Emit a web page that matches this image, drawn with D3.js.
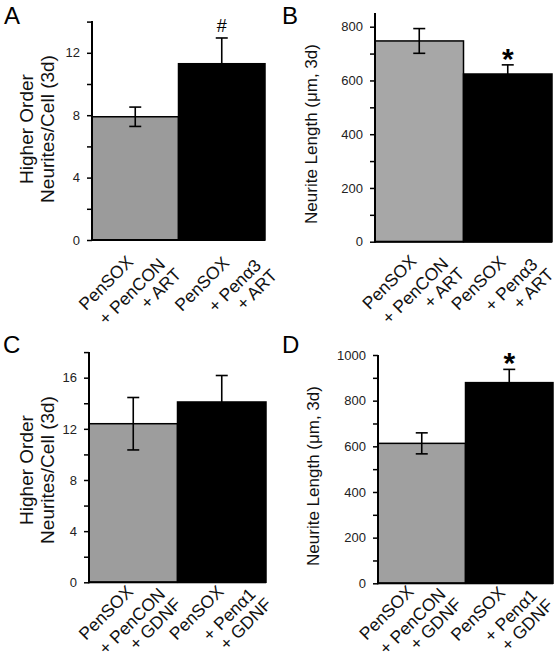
<!DOCTYPE html>
<html><head><meta charset="utf-8">
<script src="https://cdn.jsdelivr.net/npm/d3@7"></script>
<style>
body{margin:0;background:#fff;}
svg{display:block;font-family:"Liberation Sans",Arial,sans-serif;}
</style></head>
<body>
<svg id="chart" width="559" height="660"></svg>
<script>
// ---- data ----
const panelLetters = ["A", "B", "C", "D"];
const catsA = [["PenSOX", "+ PenCON", "+ ART"], ["PenSOX", "+ Penα3", "+ ART"]];
const catsB = [["PenSOX", "+ PenCON", "+ ART"], ["PenSOX", "+ Penα3", "+ ART"]];
const catsC = [["PenSOX", "+ PenCON", "+ GDNF"], ["PenSOX", "+ Penα1", "+ GDNF"]];
const catsD = [["PenSOX", "+ PenCON", "+ GDNF"], ["PenSOX", "+ Penα1", "+ GDNF"]];
const valuesA = [7.9, 11.3];
const errorsA = [0.62, 1.65];
const valuesB = [747, 624];
const errorsB = [46, 34];
const valuesC = [12.4, 14.1];
const errorsC = [2.05, 2.07];
const valuesD = [613, 879];
const errorsD = [46, 58];
const ticksA = [0, 2, 4, 6, 8, 10, 12, 14];
const labelsA = [0, 4, 8, 12];
const ticksB = [0, 100, 200, 300, 400, 500, 600, 700, 800];
const labelsB = [0, 200, 400, 600, 800];
const ticksC = [0, 2, 4, 6, 8, 10, 12, 14, 16, 18];
const labelsC = [0, 4, 8, 12, 16];
const ticksD = [0, 100, 200, 300, 400, 500, 600, 700, 800, 900, 1000];
const labelsD = [0, 200, 400, 600, 800, 1000];
const titleA = ["Higher Order", "Neurites/Cell (3d)"];
const titleB = ["Neurite Length (μm, 3d)"];
const titleC = ["Higher Order", "Neurites/Cell (3d)"];
const titleD = ["Neurite Length (μm, 3d)"];
const marksA = ["", "#"];
const marksB = ["", "*"];
const marksC = ["", ""];
const marksD = ["", "*"];

const svg = d3.select("#chart");

function panel(o) {
  const g = svg.append("g");
  const y = d3.scaleLinear().domain([0, o.max]).range([o.y0, o.yMax]);
  const x = d3.scaleBand().domain([0, 1]).range([o.ax, o.right]).padding(0);
  const fills = [o.gray, "#000"];

  // bars
  g.selectAll("rect.bar").data(o.values).enter().append("rect")
    .attr("x", (d, i) => x(i)).attr("width", x.bandwidth())
    .attr("y", d => y(d)).attr("height", d => y(0) - y(d))
    .attr("fill", (d, i) => fills[i]).attr("stroke", "#000").attr("stroke-width", 1.5);

  // error bars
  o.values.forEach((v, i) => {
    const cx = x(i) + x.bandwidth() / 2;
    const e = o.errors[i];
    const lo = i === 0 ? v - e : v;
    g.append("line").attr("x1", cx).attr("x2", cx).attr("y1", y(lo)).attr("y2", y(v + e))
      .attr("stroke", "#000").attr("stroke-width", 1.6);
    g.append("line").attr("x1", cx - 6).attr("x2", cx + 6).attr("y1", y(v + e)).attr("y2", y(v + e))
      .attr("stroke", "#000").attr("stroke-width", 1.6);
    if (i === 0) {
      g.append("line").attr("x1", cx - 6).attr("x2", cx + 6).attr("y1", y(v - e)).attr("y2", y(v - e))
        .attr("stroke", "#000").attr("stroke-width", 1.6);
    }
    const m = o.marks[i];
    if (m) {
      const isStar = m === "*";
      g.append("text").attr("x", cx).attr("y", y(v + e) + (isStar ? 4 : -6))
        .attr("text-anchor", "middle")
        .attr("font-size", isStar ? 30 : 18)
        .attr("font-weight", isStar ? "bold" : "normal")
        .text(m);
    }
  });

  // y axis
  const axis = d3.axisLeft(y).tickValues(o.ticks).tickSize(5).tickSizeOuter(0)
    .tickFormat(d => o.labels.includes(d) ? d : "");
  const ag = g.append("g").attr("transform", `translate(${o.ax},0)`).call(axis);
  ag.select(".domain").remove();
  ag.selectAll(".tick line").attr("stroke", "#000").attr("stroke-width", 1.5);
  ag.selectAll(".tick text").attr("font-size", 13).attr("fill", "#222").attr("x", -12)
    .attr("font-family", "Liberation Sans, Arial, sans-serif");
  g.append("line").attr("x1", o.ax).attr("x2", o.ax).attr("y1", y(0) + 1).attr("y2", o.axTop)
    .attr("stroke", "#000").attr("stroke-width", 2);
  // baseline
  g.append("line").attr("x1", o.ax).attr("x2", o.right).attr("y1", y(0)).attr("y2", y(0))
    .attr("stroke", "#000").attr("stroke-width", 2);

  // category labels (rotated, three lines each)
  const offs = [[0, 0], [32, 2.5], [48, 12.5]];
  o.cats.forEach((lines, i) => {
    const cx = x(i) + x.bandwidth() / 2;
    lines.forEach((t, j) => {
      const px = cx + o.lab[i][0] + offs[j][0], py = o.y0 + o.lab[i][1] + offs[j][1];
      g.append("text").attr("transform", `translate(${px},${py}) rotate(-45)`)
        .attr("text-anchor", "end").attr("font-size", 17.5).attr("fill", "#111").text(t);
    });
  });

  // y title
  const n = o.title.length;
  o.title.forEach((t, j) => {
    const bx = o.titleX - (n - 1 - j) * 21;
    g.append("text").attr("transform", `translate(${bx},${o.titleY}) rotate(-90)`)
      .attr("text-anchor", "middle").attr("font-size", o.titleSize).attr("fill", "#111").text(t);
  });

  // panel letter
  g.append("text").attr("x", o.lx).attr("y", o.ly).attr("font-size", 24).attr("fill", "#000").text(o.letter);
}

panel({letter: panelLetters[0], lx: 4, ly: 24, ax: 92, right: 265, y0: 240, yMax: 21.6, max: 14, axTop: 21,
  values: valuesA, errors: errorsA, ticks: ticksA, labels: labelsA, cats: catsA, title: titleA, marks: marksA,
  titleX: 54, titleY: 129, titleSize: 19, gray: "#9b9b9b", lab: [[-1, 23], [8.5, 24]]});
panel({letter: panelLetters[1], lx: 282, ly: 24, ax: 375, right: 552, y0: 241.7, yMax: 26.7, max: 800, axTop: 13,
  values: valuesB, errors: errorsB, ticks: ticksB, labels: labelsB, cats: catsB, title: titleB, marks: marksB,
  titleX: 317, titleY: 134, titleSize: 17, gray: "#a7a7a7", lab: [[-1.7, 20.6], [-1, 21.5]]});
panel({letter: panelLetters[2], lx: 3, ly: 353, ax: 89, right: 266, y0: 582.3, yMax: 352.1, max: 18, axTop: 352,
  values: valuesC, errors: errorsC, ticks: ticksC, labels: labelsC, cats: catsC, title: titleC, marks: marksC,
  titleX: 54, titleY: 470, titleSize: 19, gray: "#9d9d9d", lab: [[1, 10.5], [3, 10.5]]});
panel({letter: panelLetters[3], lx: 282, ly: 353, ax: 378, right: 553, y0: 583.3, yMax: 355, max: 1000, axTop: 355,
  values: valuesD, errors: errorsD, ticks: ticksD, labels: labelsD, cats: catsD, title: titleD, marks: marksD,
  titleX: 319, titleY: 476, titleSize: 17, gray: "#a0a0a0", lab: [[-7, 9.5], [-3, 10.5]]});
</script>
</body></html>
